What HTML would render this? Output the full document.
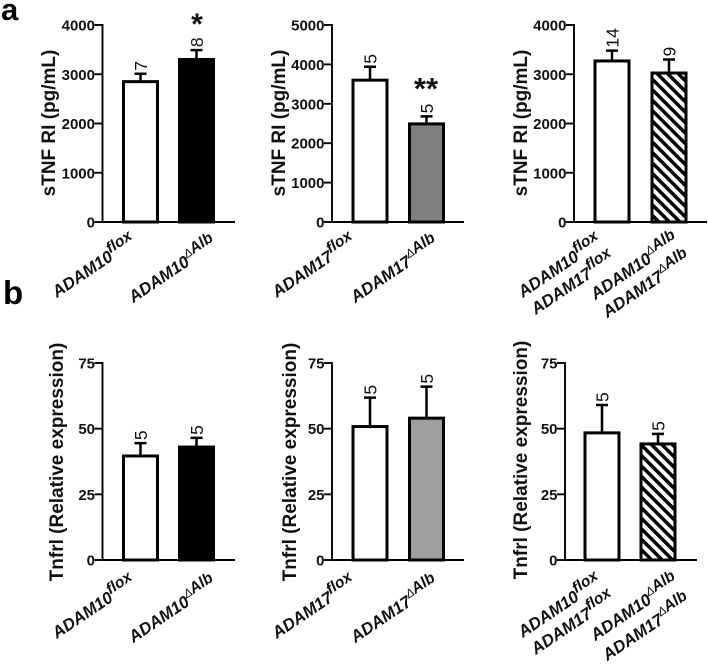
<!DOCTYPE html>
<html lang="en">
<head>
<meta charset="utf-8">
<title>sTNF RI and Tnfrl bar charts</title>
<style>
html,body{margin:0;padding:0;background:#fff;width:708px;height:665px;overflow:hidden}
svg{display:block}
text{font-family:"Liberation Sans",sans-serif;fill:#111}
</style>
</head>
<body>
<svg id="figure" width="708" height="665" viewBox="0 0 708 665" xmlns="http://www.w3.org/2000/svg">
<defs>
<pattern id="hatch" patternUnits="userSpaceOnUse" width="7.4" height="7.4" patternTransform="rotate(45)">
<rect width="7.4" height="7.4" fill="#fff"/>
<rect width="7.4" height="3.5" fill="#000"/>
</pattern>
</defs>
<text x="1" y="20" font-size="31" font-weight="700" style="fill:#000">a</text>
<text x="3" y="304" font-size="33" font-weight="700" style="fill:#000">b</text>
</svg>
<script>
// Chart data
const a1Means = [2850, 3300];
const a1Tops = [3010, 3490];
const a1Counts = ['7', '8'];
const a2Means = [3600, 2490];
const a2Tops = [3940, 2680];
const a2Counts = ['5', '5'];
const a3Means = [3270, 3025];
const a3Tops = [3480, 3300];
const a3Counts = ['14', '9'];
const b1Means = [39.6, 43];
const b1Tops = [44.5, 46.5];
const b1Counts = ['5', '5'];
const b2Means = [50.8, 54];
const b2Tops = [61.8, 66];
const b2Counts = ['5', '5'];
const b3Means = [48.4, 44.2];
const b3Tops = [59, 48];
const b3Counts = ['5', '5'];
const sTicks4000 = [0, 1000, 2000, 3000, 4000];
const sTicks5000 = [0, 1000, 2000, 3000, 4000, 5000];
const tTicks = [0, 25, 50, 75];

const svg = document.getElementById('figure');
const NS = 'http://www.w3.org/2000/svg';
function make(tag, attrs, parent, text) {
  const el = document.createElementNS(NS, tag);
  for (const k in attrs) el.setAttribute(k, attrs[k]);
  if (text !== undefined) el.textContent = text;
  parent.appendChild(el);
  return el;
}
function addLabel(parent, x, y, base, sup, isDelta) {
  const t = make('text', {x: x, y: y, 'text-anchor': 'end', 'font-size': 16.8, 'font-weight': 700, 'font-style': 'italic', transform: 'rotate(-34 ' + x + ' ' + y + ')'}, parent);
  
  
  make('tspan', {}, t, base);
  if (isDelta) {
    make('tspan', {dy: -7, 'font-size': 12, 'font-weight': 400}, t, 'Δ');
    make('tspan', {'font-size': 15.5}, t, 'Alb');
  } else {
    make('tspan', {dy: -7, 'font-size': 15.5}, t, 'flox');
  }
}
function drawPanel(p) {
  const g = make('g', {}, svg);
  
  
  const yScale = v => p.y0 + (p.yTop - p.y0) * v / p.max;
  // bars
  p.means.forEach((m, i) => {
    const x0 = p.barX[i], w = p.barW, cx = x0 + w / 2;
    const err = make('path', {d: 'M' + cx + ' ' + yScale(m) + 'V' + yScale(p.tops[i]) + 'M' + (cx - 6) + ' ' + yScale(p.tops[i]) + 'H' + (cx + 6), stroke: '#000', 'stroke-width': 2.5, fill: 'none'}, g);
    
    
    const bar = make('rect', {x: x0, y: yScale(m), width: w, height: p.y0 - yScale(m), fill: p.fills[i], stroke: '#000', 'stroke-width': 3}, g);
    
    
    const ty = yScale(p.tops[i]) - 3;
    const n = make('text', {x: cx + 6.5, y: ty, 'font-size': 17.5, transform: 'rotate(-90 ' + (cx + 6.5) + ' ' + ty + ')'}, g, p.counts[i]);
    
    
  });
  // axes
  const axis = make('path', {d: 'M' + p.axisX + ' ' + (p.yTop - 1) + 'V' + p.y0 + 'M' + p.axisX + ' ' + p.y0 + 'H' + p.axisEnd, stroke: '#000', 'stroke-width': 1.9, fill: 'none'}, g);
  
  
  p.ticks.forEach(v => {
    const y = yScale(v);
    const tick = make('line', {x1: p.axisX - 8, x2: p.axisX, y1: y, y2: y, stroke: '#000', 'stroke-width': 1.9}, g);
    
    
    const lab = make('text', {x: p.axisX - 7.5, y: y + 5.5, 'text-anchor': 'end', 'font-size': 15, 'font-weight': 700}, g, v);
    
    
  });
  const ty = make('text', {x: p.titleX, y: p.titleY, 'text-anchor': 'middle', 'font-size': p.titleSize, 'font-weight': 700, transform: 'rotate(-90 ' + p.titleX + ' ' + p.titleY + ')'}, g, p.title);
  
  
  p.labels.forEach(l => addLabel(g, l[0], l[1], l[2], l[3], l[3] === 'd'));
}
const STITLE = 'sTNF RI (pg/mL)';
const TTITLE = 'Tnfrl (Relative expression)';
const panels = [
  {name: 'panel-a-adam10', means: a1Means, tops: a1Tops, counts: a1Counts, ticks: sTicks4000, max: 4000, y0: 222, yTop: 25, axisX: 102.5, axisEnd: 235, barX: [123.5, 179.5], barW: 34, fills: ['#fff', '#000'], title: STITLE, titleX: 55, titleY: 123, titleSize: 19,
   labels: [[137, 244, 'ADAM10', 'f'], [218, 246, 'ADAM10', 'd']]},
  {name: 'panel-a-adam17', means: a2Means, tops: a2Tops, counts: a2Counts, ticks: sTicks5000, max: 5000, y0: 222, yTop: 25, axisX: 332, axisEnd: 464, barX: [353, 409.5], barW: 34, fills: ['#fff', '#7f7f7f'], title: STITLE, titleX: 285, titleY: 123, titleSize: 19,
   labels: [[357, 244, 'ADAM17', 'f'], [440, 246, 'ADAM17', 'd']]},
  {name: 'panel-a-double', means: a3Means, tops: a3Tops, counts: a3Counts, ticks: sTicks4000, max: 4000, y0: 222, yTop: 25, axisX: 574, axisEnd: 707, barX: [595, 652], barW: 34, fills: ['#fff', 'url(#hatch)'], title: STITLE, titleX: 527, titleY: 123, titleSize: 19,
   labels: [[603, 244, 'ADAM10', 'f'], [616, 261, 'ADAM17', 'f'], [680, 243, 'ADAM10', 'd'], [692, 261, 'ADAM17', 'd']]},
  {name: 'panel-b-adam10', means: b1Means, tops: b1Tops, counts: b1Counts, ticks: tTicks, max: 75, y0: 560, yTop: 363, axisX: 102.5, axisEnd: 235, barX: [123.5, 179.5], barW: 34, fills: ['#fff', '#000'], title: TTITLE, titleX: 63, titleY: 462, titleSize: 19,
   labels: [[137, 585, 'ADAM10', 'f'], [218, 586, 'ADAM10', 'd']]},
  {name: 'panel-b-adam17', means: b2Means, tops: b2Tops, counts: b2Counts, ticks: tTicks, max: 75, y0: 560, yTop: 363, axisX: 332, axisEnd: 464, barX: [353, 409.5], barW: 34, fills: ['#fff', '#9e9e9e'], title: TTITLE, titleX: 296, titleY: 462, titleSize: 19,
   labels: [[357, 585, 'ADAM17', 'f'], [440, 586, 'ADAM17', 'd']]},
  {name: 'panel-b-double', means: b3Means, tops: b3Tops, counts: b3Counts, ticks: tTicks, max: 75, y0: 560, yTop: 363, axisX: 565, axisEnd: 697, barX: [585, 641], barW: 34, fills: ['#fff', 'url(#hatch)'], title: TTITLE, titleX: 527, titleY: 460, titleSize: 19,
   labels: [[603, 584, 'ADAM10', 'f'], [616, 601, 'ADAM17', 'f'], [680, 584, 'ADAM10', 'd'], [692, 604, 'ADAM17', 'd']]}
];
panels.forEach(drawPanel);
const star1 = make('text', {x: 197, y: 34, 'text-anchor': 'middle', 'font-size': 30, 'font-weight': 700}, svg, '*');


const star2 = make('text', {x: 426, y: 99, 'text-anchor': 'middle', 'font-size': 31, 'font-weight': 700}, svg, '**');


</script>
</body>
</html>
